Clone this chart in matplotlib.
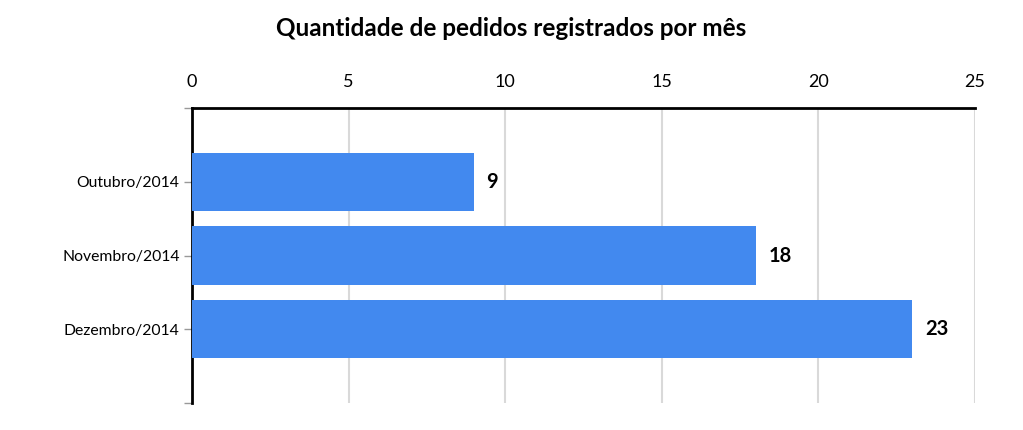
import matplotlib
matplotlib.use('Agg')
import matplotlib.pyplot as plt

# Dados
meses = ['Outubro/2014', 'Novembro/2014', 'Dezembro/2014']
pedidos = [9, 18, 23]
xticks = [0, 5, 10, 15, 20, 25]

plt.rcParams['font.family'] = ['Lato', 'DejaVu Sans']

fig = plt.figure(figsize=(10.23, 4.30), dpi=100)
ax = fig.add_axes([0.1877, 0.0628, 0.7654, 0.686])

pos = list(range(len(meses)))
ax.barh(pos, pedidos, height=0.79, color='#4289ef', zorder=3)

for p, v in zip(pos, pedidos):
    ax.text(v + 0.4, p, str(v), va='center', ha='left', fontsize=14.5,
            fontweight='bold', color='black')

ax.set_xlim(0, 25)
ax.set_ylim(3, -1)

# Eixo x no topo
ax.xaxis.tick_top()
ax.set_xticks(xticks)
ax.set_xticklabels([str(t) for t in xticks], fontsize=13)
ax.tick_params(axis='x', length=0, pad=13)
ax.grid(axis='x', color='#d9d9d9', linewidth=1.5, zorder=0)

# Eixo y
ax.set_yticks([-1] + pos + [3])
ax.set_yticklabels([''] + meses + [''], fontsize=11.3)
ax.tick_params(axis='y', length=6, color='#999999', width=1, pad=3)

for s in ['right', 'bottom']:
    ax.spines[s].set_visible(False)
ax.spines['top'].set_linewidth(2)
ax.spines['left'].set_linewidth(2)

fig.suptitle('Quantidade de pedidos registrados por mês', fontsize=17.5,
             fontweight='bold', y=0.96)

fig.savefig('out.png', dpi=100)
